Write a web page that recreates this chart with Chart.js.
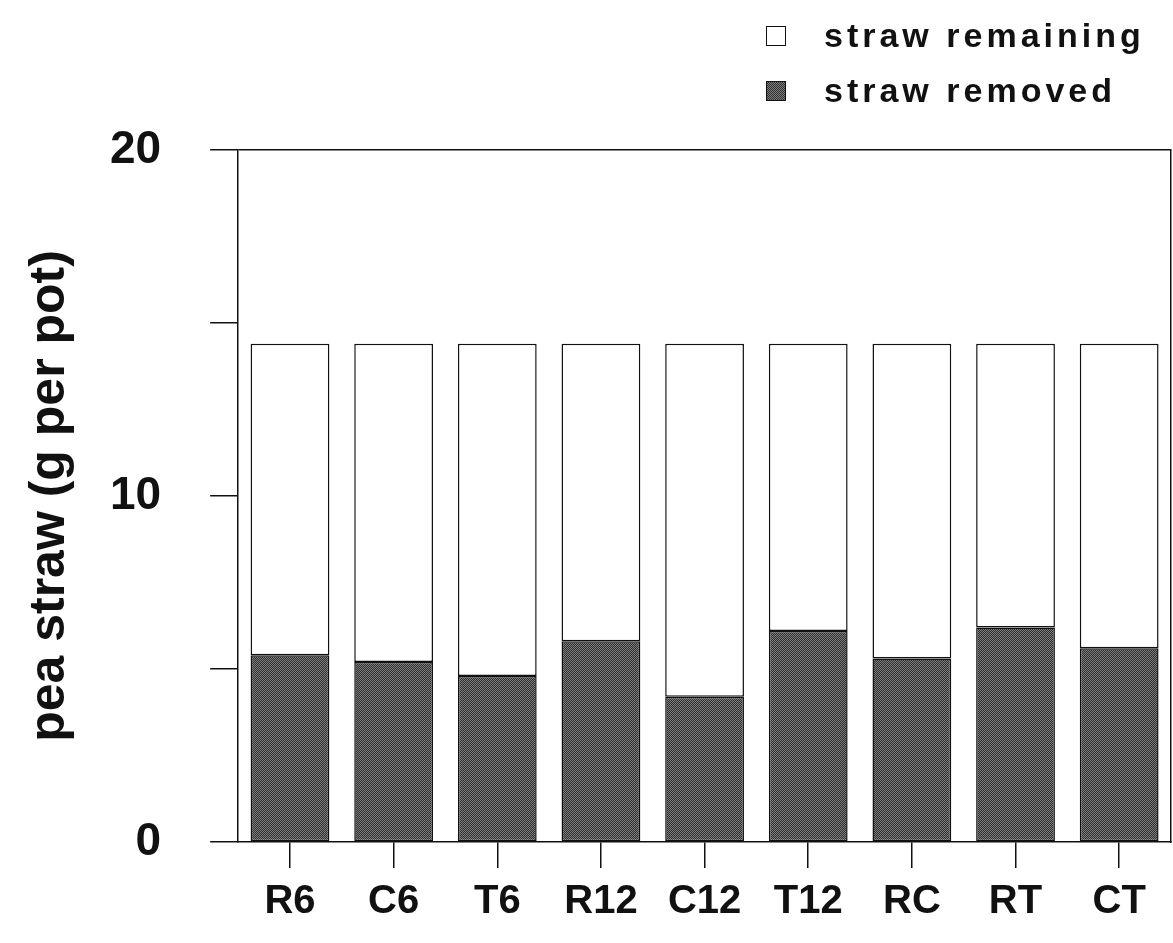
<!DOCTYPE html>
<html>
<head>
<meta charset="utf-8">
<script src="https://cdn.jsdelivr.net/npm/chart.js@4.4.1/dist/chart.umd.min.js"></script>
<style>
  body { margin: 0; background: #fff; }
  #wrap { position: relative; width: 1173px; height: 943px; }
  #legend { position: absolute; left: 766px; top: 8px; font-family: "Liberation Sans", Arial, sans-serif;
            font-weight: bold; font-size: 34px; letter-spacing: 4px; color: #111; }
  #legend div { height: 55px; display: flex; align-items: center; }
  #legend span.box { display: inline-block; width: 20px; height: 20px; border: 1.5px solid #111;
                     margin-right: 38px; box-sizing: border-box; }
</style>
</head>
<body>
<div id="wrap">
  <canvas id="chart" width="1173" height="943"></canvas>
  <div id="legend"></div>
</div>
<script>
const categories = ['R6', 'C6', 'T6', 'R12', 'C12', 'T12', 'RC', 'RT', 'CT'];
const strawRemoved = [5.4, 5.2, 4.8, 5.8, 4.2, 6.1, 5.3, 6.2, 5.6];
const strawRemaining = [9.0, 9.2, 9.6, 8.6, 10.2, 8.3, 9.1, 8.2, 8.8];
const yTickLabels = [0, 10, 20];

// dithered dark grey like the scanned print
function makePattern() {
    const c = document.createElement('canvas');
    c.width = 2;
    c.height = 2;
    const g = c.getContext('2d');
    g.fillStyle = '#303030';
    g.fillRect(0, 0, 2, 2);
    g.fillStyle = '#7c7c7c';
    g.fillRect(0, 0, 1, 1);
    g.fillRect(1, 1, 1, 1);
    return c;
}
const patCanvas = makePattern();
const ctx = document.getElementById('chart').getContext('2d');
const darkFill = ctx.createPattern(patCanvas, 'repeat');

const datasets = [
    { label: 'straw removed', data: strawRemoved, backgroundColor: darkFill, swatch: 'url(' + patCanvas.toDataURL() + ')' },
    { label: 'straw remaining', data: strawRemaining, backgroundColor: '#ffffff', swatch: '#ffffff' }
];

const legend = document.getElementById('legend');
datasets.slice().reverse().forEach(ds => {
    const row = document.createElement('div');
    const box = document.createElement('span');
    box.className = 'box';
    box.style.background = ds.swatch;
    row.appendChild(box);
    row.appendChild(document.createTextNode(ds.label));
    legend.appendChild(row);
});

const font = { family: '"Liberation Sans", Arial, sans-serif', weight: 'bold' };

new Chart(ctx, {
    type: 'bar',
    data: {
        labels: categories,
        datasets: datasets.map(ds => ({
            label: ds.label,
            data: ds.data,
            backgroundColor: ds.backgroundColor,
            borderColor: '#111',
            borderWidth: 1.5,
            borderSkipped: false,
            barPercentage: 0.76,
            categoryPercentage: 1.0,
            yAxisID: 'y'
        }))
    },
    options: {
        responsive: false,
        animation: false,
        layout: { padding: { top: 150, right: 2, bottom: 7, left: 20 } },
        plugins: {
            legend: { display: false },
            tooltip: { enabled: false }
        },
        scales: {
            x: {
                stacked: true,
                grid: { display: true, offset: false, drawOnChartArea: false, tickLength: 26, color: '#111', lineWidth: 1.5 },
                border: { display: true, color: '#111', width: 1.5 },
                ticks: { color: '#111', padding: 10, font: { ...font, size: 40 } }
            },
            y: {
                stacked: true,
                min: 0,
                max: 20,
                // negative bottom padding offsets the doubled tick padding Chart.js reserves
                title: { display: true, text: 'pea straw (g per pot)', color: '#111', padding: { top: 0, bottom: -19 },
                         font: { ...font, size: 50 } },
                grid: {
                    drawOnChartArea: true,
                    tickLength: 28,
                    lineWidth: 1.5,
                    color: c => (c.tick && c.tick.value === 20) ? '#111' : 'rgba(0,0,0,0)',
                    tickColor: '#111'
                },
                border: { display: true, color: '#111', width: 1.5 },
                ticks: {
                    stepSize: 5,
                    color: '#111',
                    padding: 49,
                    font: { ...font, size: 46 },
                    callback: v => yTickLabels.includes(v) ? String(v) : ''
                }
            },
            y2: {
                position: 'right',
                min: 0,
                max: 20,
                grid: { drawOnChartArea: false, drawTicks: false },
                border: { display: true, color: '#111', width: 1.5 },
                ticks: { display: false }
            }
        }
    }
});
</script>
</body>
</html>
